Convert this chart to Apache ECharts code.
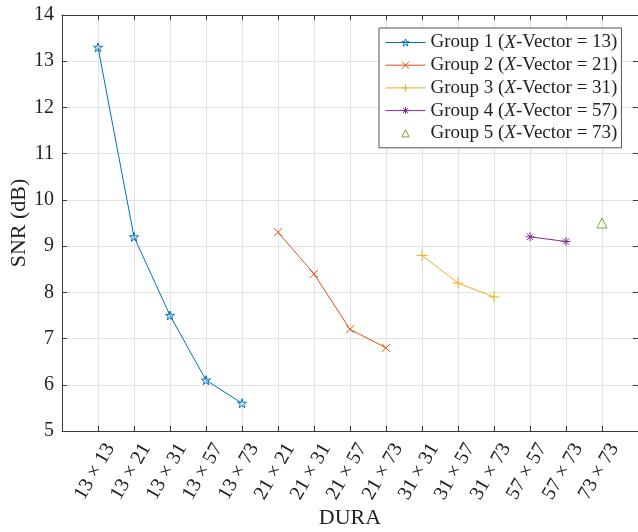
<!DOCTYPE html>
<html>
<head>
<meta charset="utf-8">
<script src="https://cdn.jsdelivr.net/npm/echarts@6/dist/echarts.min.js"></script>
<style>
html,body{margin:0;padding:0;background:#fff;}
#chart{width:638px;height:532px;}
</style>
</head>
<body>
<div id="chart"></div>
<script>
// ---- data ----
const categories = ['13 × 13','13 × 21','13 × 31','13 × 57','13 × 73',
                    '21 × 21','21 × 31','21 × 57','21 × 73',
                    '31 × 31','31 × 57','31 × 73',
                    '57 × 57','57 × 73',
                    '73 × 73'];
const vectorSizes = [13, 21, 31, 57, 73];
const group1 = [13.3, 9.2, 7.5, 6.1, 5.6];
const group2 = [9.3, 8.4, 7.2, 6.8];
const group3 = [8.8, 8.2, 7.9];
const group4 = [9.2, 9.1];
const group5 = [9.5];
const yTicks = [5, 6, 7, 8, 9, 10, 11, 12, 13, 14];

// ---- build ----
const groups = [group1, group2, group3, group4, group5];
const colors = ['#0072BD', '#D95319', '#EDB120', '#7E2F8E', '#77AC30'];
const axisCats = [''].concat(categories, ['']);

function starPath() {
  let p = '';
  for (let i = 0; i < 10; i++) {
    const r = i % 2 === 0 ? 10 : 3.9;
    const a = -Math.PI / 2 + i * Math.PI / 5;
    const x = (10 + r * Math.cos(a)).toFixed(2);
    const y = (10 + r * Math.sin(a)).toFixed(2);
    p += (i === 0 ? 'M' : 'L') + x + ',' + y;
  }
  return 'path://' + p + 'Z';
}
const symbols = [
  starPath(),
  'path://M0,0L10,10M10,0L0,10',
  'path://M5,0L5,10M0,5L10,5',
  'path://M5,0L5,10M0,5L10,5M1.5,1.5L8.5,8.5M8.5,1.5L1.5,8.5',
  'triangle'
];
const symbolSizes = [9, 8, 11, 9, 10];

let offset = 0;
const series = groups.map((vals, g) => {
  const data = vals.map((v, i) => [categories[offset + i], v]);
  offset += vals.length;
  return {
    name: 'Group ' + (g + 1) + ' (X-Vector = ' + vectorSizes[g] + ')',
    type: 'line',
    data: data,
    symbol: symbols[g],
    symbolSize: symbolSizes[g],
    showAllSymbol: true,
    lineStyle: { color: colors[g], width: g === 4 ? 0 : 1, opacity: g === 4 ? 0 : 1 },
    itemStyle: { color: 'rgba(255,255,255,0)', borderColor: colors[g], borderWidth: 1 },
    emphasis: { disabled: true },
    z: 3
  };
});

const fontFam = '"Liberation Serif", "Times New Roman", serif';
const axisColor = '#3a3a3a';
const gridColor = '#e2e2e2';

const legendData = series.map((s, g) => ({
  name: s.name,
  itemStyle: { color: 'rgba(255,255,255,0)', borderColor: colors[g], borderWidth: 1 },
  lineStyle: { color: colors[g], width: g === 4 ? 0 : 1, opacity: g === 4 ? 0 : 1 }
}));

const option = {
  animation: false,
  backgroundColor: '#fff',
  textStyle: { fontFamily: fontFam },
  grid: { left: 62, top: 15, width: 576, height: 416, containLabel: false, outerBoundsMode: 'none' },
  legend: {
    left: 379, top: 28,
    orient: 'vertical',
    data: legendData,
    backgroundColor: '#fff',
    borderColor: '#555',
    borderWidth: 1,
    borderRadius: 0,
    padding: [5, 4, 5, 6],
    itemWidth: 40,
    itemHeight: 9,
    itemGap: 3.7,
    formatter: function (name) {
      const m = name.match(/^(Group \d+) \(X(-Vector = \d+\))$/);
      return '{n|' + m[1] + ' (}{i|X}{n|' + m[2] + '}';
    },
    textStyle: {
      fontFamily: fontFam,
      fontSize: 19,
      color: '#222',
      rich: {
        n: { fontFamily: fontFam, fontSize: 19, color: '#222', lineHeight: 20 },
        i: { fontFamily: fontFam, fontSize: 19, color: '#222', fontStyle: 'italic', lineHeight: 20 }
      }
    }
  },
  xAxis: [{
    type: 'category',
    data: axisCats,
    boundaryGap: false,
    position: 'bottom',
    name: 'DURA',
    nameLocation: 'middle',
    nameGap: 76,
    nameMoveOverlap: false,
    nameTextStyle: { fontFamily: fontFam, fontSize: 22, color: '#222' },
    axisLine: { show: true, lineStyle: { color: axisColor, width: 1 } },
    axisTick: { show: true, inside: true, length: 5, interval: 0, lineStyle: { color: axisColor } },
    axisLabel: {
      interval: 0, rotate: 60, margin: 7,
      verticalAlign: 'top',
      padding: [4, 0, 0, 0],
      fontFamily: fontFam, fontSize: 20, color: '#222'
    },
    splitLine: { show: true, interval: 0, lineStyle: { color: gridColor, width: 1 } }
  }, {
    type: 'category',
    data: axisCats,
    boundaryGap: false,
    position: 'top',
    axisLine: { show: true, lineStyle: { color: axisColor, width: 1 } },
    axisTick: { show: true, inside: true, length: 5, interval: 0, lineStyle: { color: axisColor } },
    axisLabel: { show: false },
    splitLine: { show: false }
  }],
  yAxis: [{
    type: 'value',
    min: yTicks[0], max: yTicks[yTicks.length - 1], interval: 1,
    position: 'left',
    name: 'SNR (dB)',
    nameLocation: 'middle',
    nameGap: 32,
    nameMoveOverlap: false,
    nameTextStyle: { fontFamily: fontFam, fontSize: 22, color: '#222' },
    axisLine: { show: true, lineStyle: { color: axisColor, width: 1 } },
    axisTick: { show: true, inside: true, length: 5, lineStyle: { color: axisColor } },
    axisLabel: { margin: 8, fontFamily: fontFam, fontSize: 20, color: '#222' },
    splitLine: { show: true, lineStyle: { color: gridColor, width: 1 } }
  }, {
    type: 'value',
    min: yTicks[0], max: yTicks[yTicks.length - 1], interval: 1,
    position: 'right',
    axisLine: { show: true, lineStyle: { color: axisColor, width: 1 } },
    axisTick: { show: true, inside: true, length: 5, lineStyle: { color: axisColor } },
    axisLabel: { show: false },
    splitLine: { show: false }
  }],
  series: series
};

const chart = echarts.init(document.getElementById('chart'), null, { renderer: 'canvas' });
chart.setOption(option);
</script>
</body>
</html>
